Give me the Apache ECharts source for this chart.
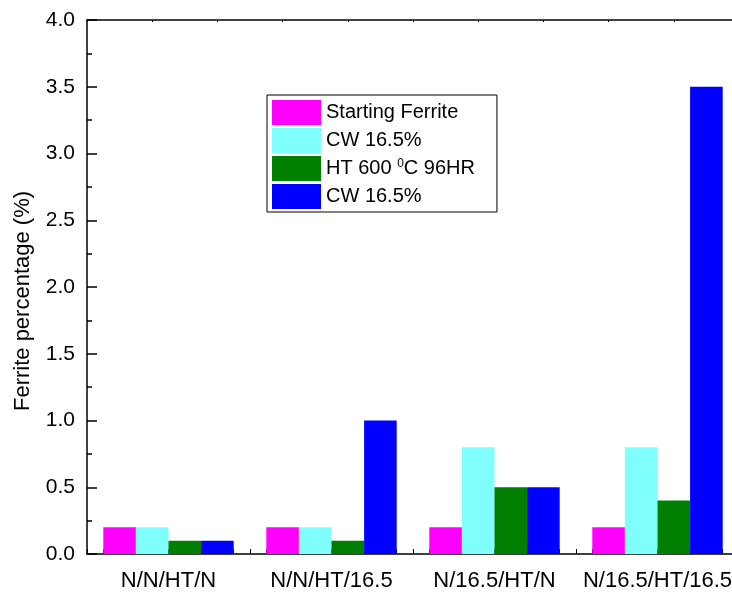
<!DOCTYPE html>
<html>
<head>
<meta charset="utf-8">
<script src="https://cdn.jsdelivr.net/npm/echarts@6/dist/echarts.min.js"></script>
<style>
  html, body { margin: 0; padding: 0; background: #fff; overflow: hidden; }
  #chart { width: 742px; height: 592px; }
</style>
</head>
<body>
<div id="chart"></div>
<script>
// Sample processing routes
const categories = ['N/N/HT/N', 'N/N/HT/16.5', 'N/16.5/HT/N', 'N/16.5/HT/16.5'];

// Ferrite percentage after each processing step
const startingFerrite = [0.2, 0.2, 0.2, 0.2];
const cwFirst = [0.2, 0.2, 0.8, 0.8];
const heatTreated = [0.1, 0.1, 0.5, 0.4];
const cwSecond = [0.1, 1.0, 0.5, 3.5];

// Series keys and the legend text shown for each
const seriesKeys = ['start', 'cw1', 'ht', 'cw2'];
const legendLabels = {
  start: 'Starting Ferrite',
  cw1: 'CW 16.5%',
  ht: 'HT 600 {sup|0}C 96HR',
  cw2: 'CW 16.5%'
};

const yTicks = { min: 0, max: 4, interval: 0.5 };
const yTitle = 'Ferrite percentage (%)';

const FONT = '"Liberation Sans", Arial, Helvetica, sans-serif';
const AXIS_COLOR = '#000';

const chart = echarts.init(document.getElementById('chart'), null, { renderer: 'canvas' });

function bar(key, data, color) {
  return {
    name: key,
    type: 'bar',
    xAxisIndex: 0,
    yAxisIndex: 0,
    data: data,
    barGap: '0%',
    barCategoryGap: '20%',
    itemStyle: { color: color },
    emphasis: { disabled: true }
  };
}

chart.setOption({
  animation: false,
  backgroundColor: '#fff',
  textStyle: { fontFamily: FONT, color: '#000' },
  // the plot frame runs past the right edge of the visible page
  grid: { left: 87, top: 20, width: 652, height: 536, containLabel: false },
  legend: {
    orient: 'vertical',
    left: 267,
    top: 95,
    data: seriesKeys,
    icon: 'rect',
    itemWidth: 49,
    itemHeight: 25,
    itemGap: 3,
    padding: [5, 22, 3, 5],
    borderColor: '#000',
    borderWidth: 1,
    selectedMode: false,
    formatter: function (name) { return legendLabels[name]; },
    textStyle: {
      fontFamily: FONT,
      fontSize: 20,
      color: '#000',
      rich: {
        sup: { fontFamily: FONT, fontSize: 12, color: '#000', padding: [0, 0, 9, 0] }
      }
    }
  },
  xAxis: [
    {
      type: 'category',
      data: categories,
      position: 'bottom',
      boundaryGap: true,
      axisLine: { show: true, lineStyle: { color: AXIS_COLOR, width: 1.5 } },
      axisTick: { show: false },
      axisLabel: { fontFamily: FONT, fontSize: 22, color: '#000', margin: 16, interval: 0 },
      splitLine: { show: false }
    },
    {
      // fine tick marks along the bottom edge
      type: 'value',
      position: 'bottom',
      min: 0, max: 40, interval: 1,
      axisLine: { show: false },
      axisTick: { show: true, inside: true, length: 5, lineStyle: { color: AXIS_COLOR, width: 1 } },
      axisLabel: { show: false },
      splitLine: { show: false }
    },
    {
      // top frame line with its small ticks
      type: 'value',
      position: 'top',
      min: 0, max: 40, interval: 4,
      axisLine: { show: true, lineStyle: { color: AXIS_COLOR, width: 1.5 } },
      axisTick: { show: true, inside: true, length: 2, lineStyle: { color: AXIS_COLOR, width: 1 } },
      axisLabel: { show: false },
      splitLine: { show: false }
    }
  ],
  yAxis: {
    type: 'value',
    min: yTicks.min,
    max: yTicks.max,
    interval: yTicks.interval,
    name: yTitle,
    nameLocation: 'middle',
    nameGap: 53,
    nameTextStyle: { fontFamily: FONT, fontSize: 22, color: '#000', padding: [0, 28, 0, 0] },
    axisLine: { show: true, lineStyle: { color: AXIS_COLOR, width: 1.5 } },
    axisTick: { show: true, inside: true, length: 10, lineStyle: { color: AXIS_COLOR, width: 1.5 } },
    minorTick: { show: true, splitNumber: 2, length: 5, lineStyle: { color: AXIS_COLOR, width: 1.5 } },
    axisLabel: {
      fontFamily: FONT, fontSize: 21, color: '#000', margin: 12,
      formatter: function (v) { return v.toFixed(1); }
    },
    splitLine: { show: false },
    minorSplitLine: { show: false }
  },
  series: [
    bar('start', startingFerrite, '#FF00FF'),
    bar('cw1', cwFirst, '#80FFFF'),
    bar('ht', heatTreated, '#007F00'),
    bar('cw2', cwSecond, '#0000FF')
  ]
});
</script>
</body>
</html>
